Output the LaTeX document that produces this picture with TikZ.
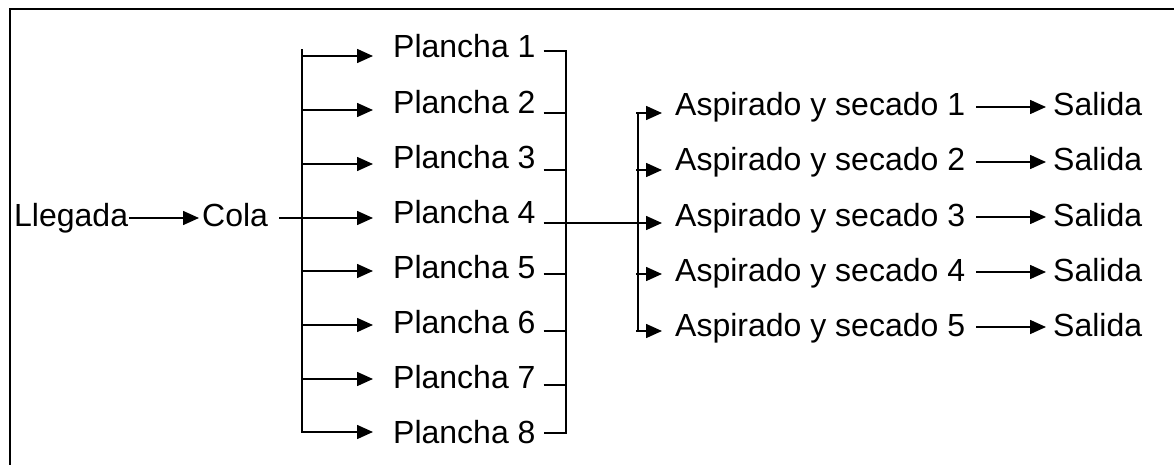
\documentclass[tikz,border=0pt]{standalone}
\usepackage{fontspec}
\setmainfont{Liberation Sans}
\usetikzlibrary{arrows.meta}
\begin{document}
\begin{tikzpicture}[x=1pt,y=-1pt,
  lbl/.style={anchor=base west, inner sep=0pt, font=\fontsize{32}{36}\selectfont},
  wire/.style={line width=1.6pt},
  arr/.style={wire, -{Triangle[length=16pt,width=14pt]}}]
\useasboundingbox (0,0) rectangle (1174,465);
% open frame: left and top edges
\draw[line width=2pt] (9.5,470) -- (9.5,9.5) -- (1180,9.5);

% arrival and queue
\node[lbl] (lleg) at (14,226) {Llegada};
\node[lbl] (cola) at (202,226) {Cola};
\draw[arr, shorten <=1pt, shorten >=3pt] (lleg.east |- 0,218) -- (cola.west |- 0,218);

% ironing stations: feed rows, label baselines, collecting rows
\foreach \i/\fy/\cy in {1/56/51, 2/110/113, 3/164/170, 4/218/223, 5/271/274, 6/325/331, 7/379/385, 8/432/433}{
  \pgfmathsetmacro\by{58+(\i-1)*55.1}
  \coordinate (lb\i) at (302,\fy);
  \coordinate (rb\i) at (566,\cy);
  \node[lbl] (p\i) at (393,\by) {Plancha \i};
}
\foreach \i in {1,2,3,5,6,7}{
  \draw[arr, shorten >=20pt] (lb\i) -- (lb\i -| p\i.west);
}
\draw[arr, shorten >=20pt, line cap=rect] ([yshift=6pt]lb1) -- (lb8) -- (lb8 -| p8.west);
\draw[arr, shorten <=11pt, shorten >=20pt] (cola.east |- lb4) -- (lb4 -| p4.west);

% collecting bus after ironing
\draw[wire, shorten <=8pt, shorten >=8pt] (p1.east |- rb1) -- (rb1) -- (rb8) -- (p8.east |- rb8);
\foreach \i in {2,3,5,6,7}{
  \draw[wire, shorten <=8pt] (p\i.east |- rb\i) -- (rb\i);
}

% vacuum and drying stations
\foreach \j/\ay in {1/113, 2/170, 3/223, 4/274, 5/331}{
  \pgfmathsetmacro\by{116+(\j-1)*55}
  \coordinate (ab\j) at (638,\ay);
  \coordinate (sb\j) at (0,\by-9);
  \node[lbl] (a\j) at (675,\by) {Aspirado y secado \j};
  \node[lbl] (s\j) at (1053,\by) {Salida};
}
\draw[wire, line cap=rect] (ab1) -- (ab5);
\foreach \j in {1,2,4,5}{
  \draw[arr, shorten >=13pt] ([xshift=-2pt]ab\j) -- (ab\j -| a\j.west);
}
\draw[arr, shorten <=8pt, shorten >=13pt] (p4.east |- rb4) -- (rb4 -| a3.west);
\foreach \j in {1,...,5}{
  \draw[arr, shorten <=11pt, shorten >=7pt] (a\j.east |- sb\j) -- (s\j.west |- sb\j);
}
\end{tikzpicture}
\end{document}
